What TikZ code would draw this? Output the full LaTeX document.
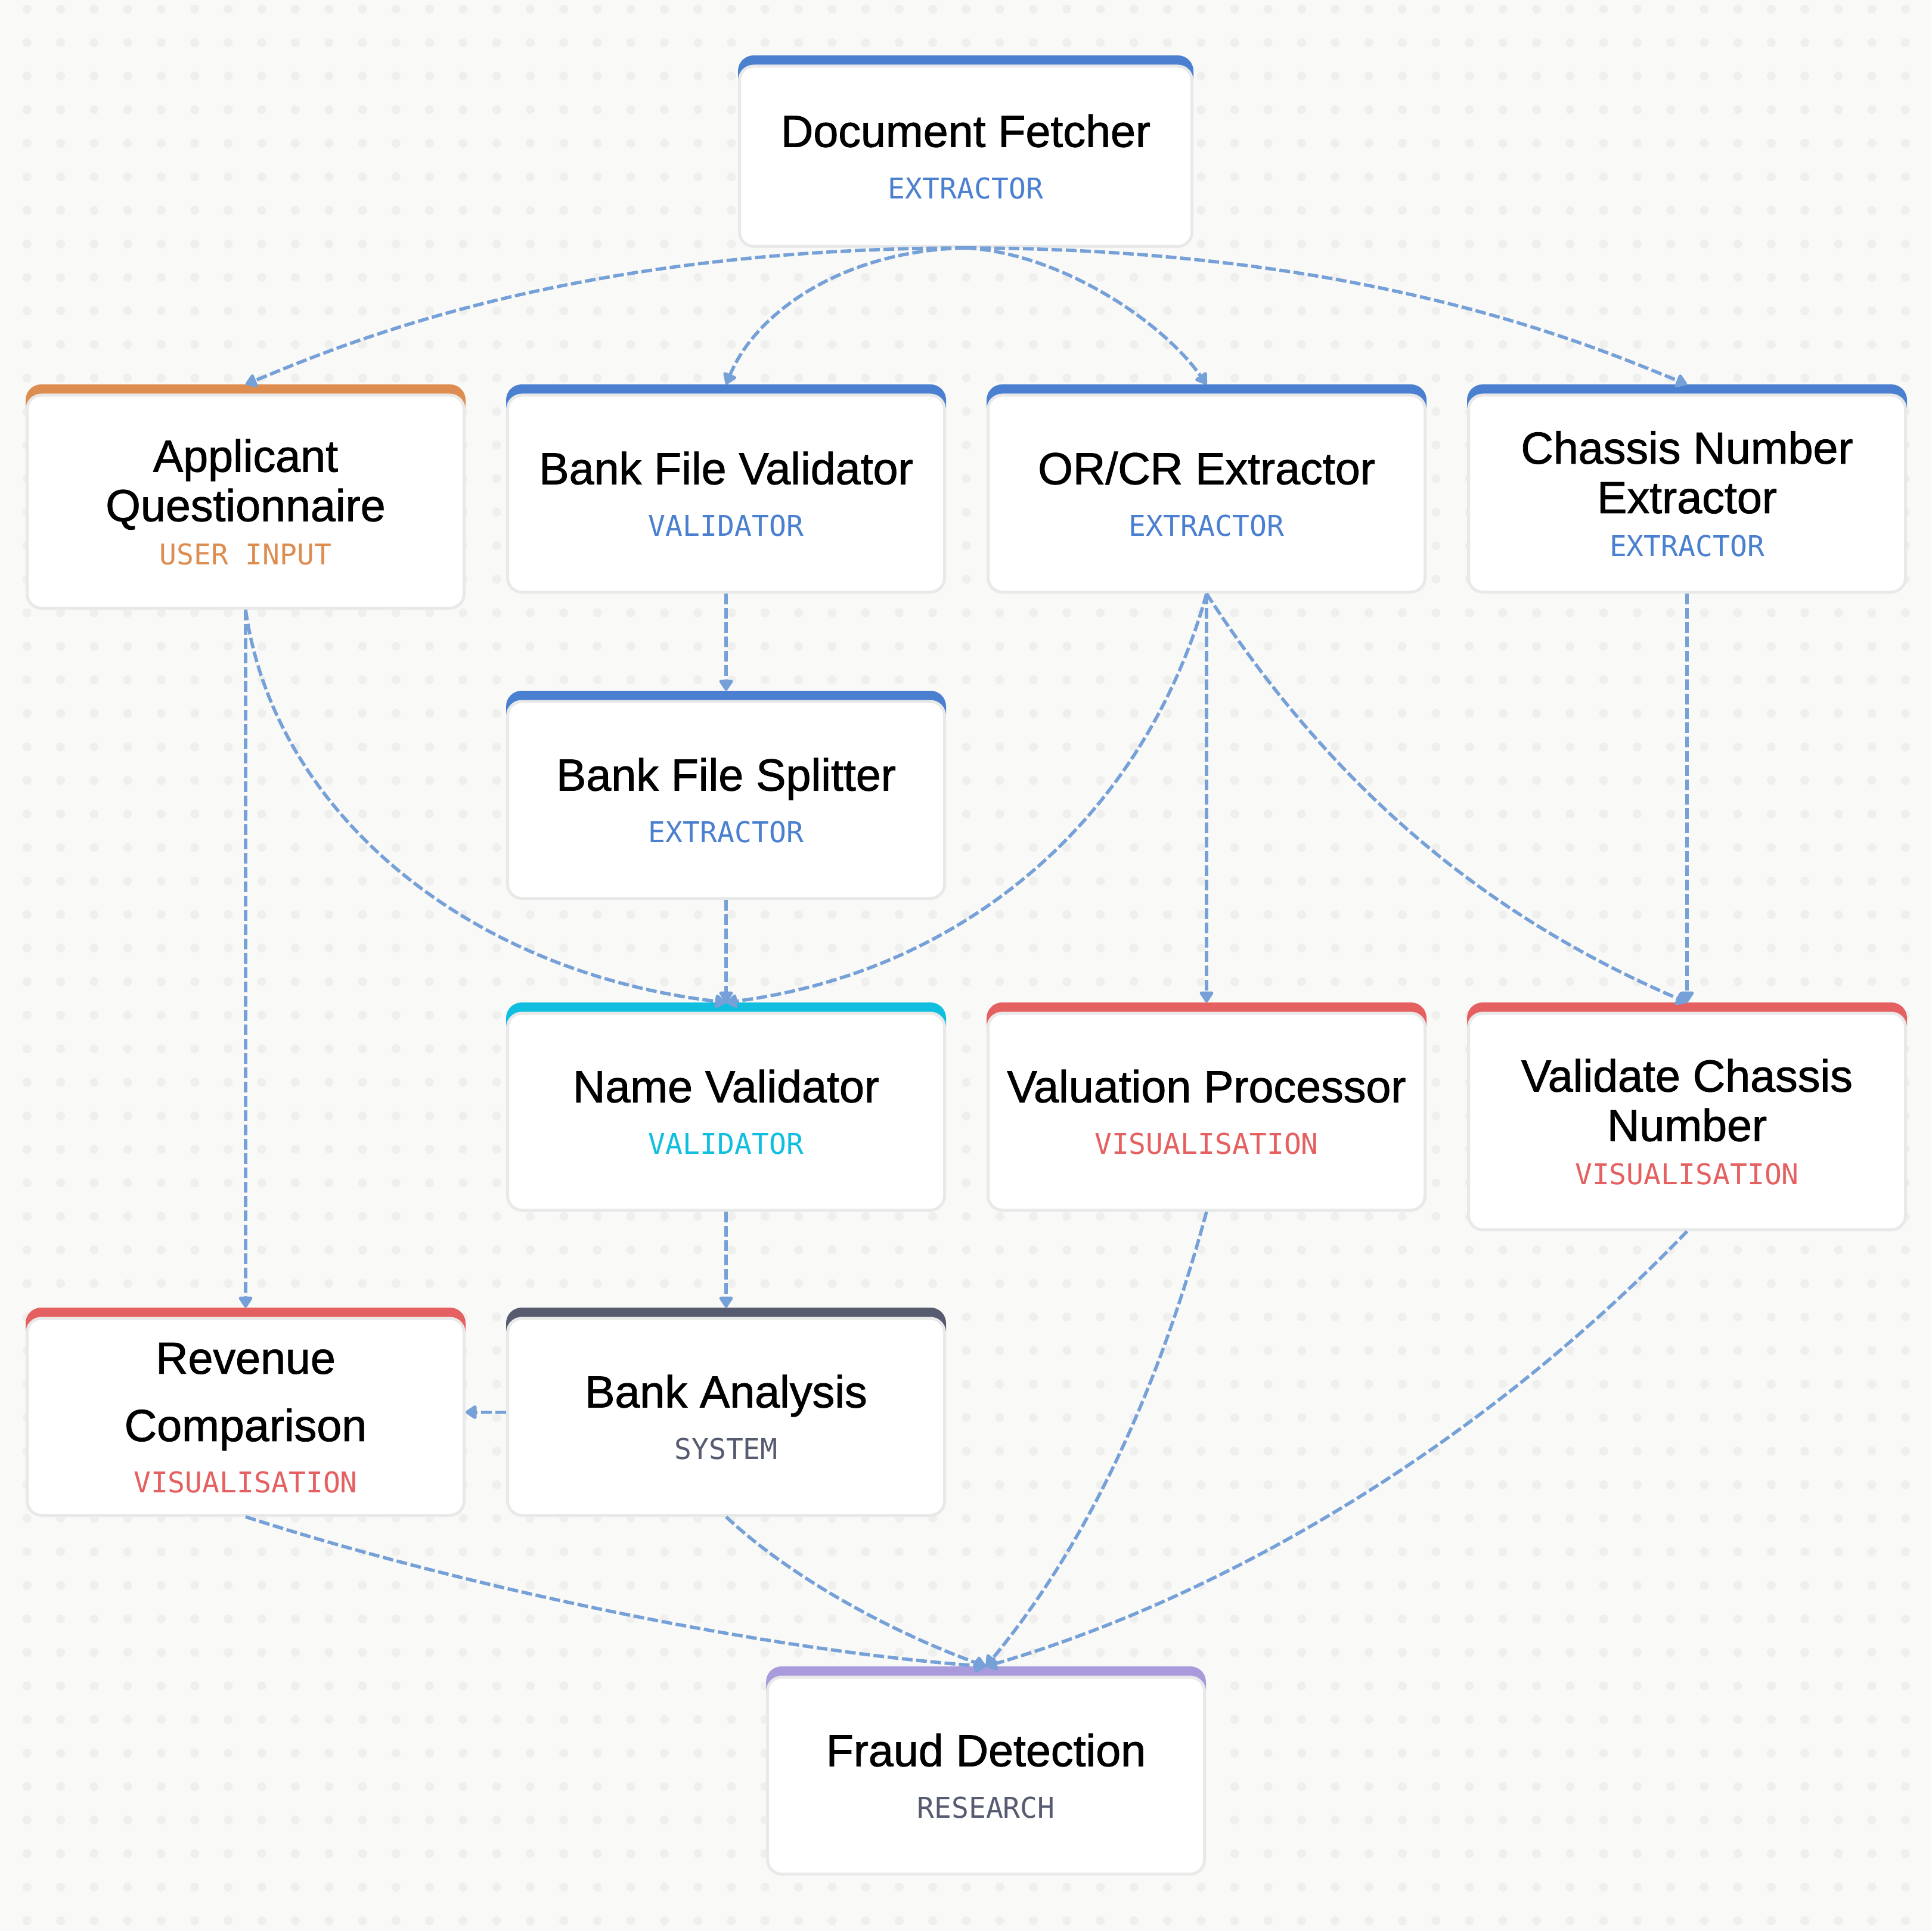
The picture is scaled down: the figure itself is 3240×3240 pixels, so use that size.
\documentclass[tikz,border=0pt]{standalone}
\usepackage{fontspec}
\usetikzlibrary{arrows.meta, backgrounds, positioning}

\setmainfont{Liberation Sans}
\newfontfamily\rolefamily{DejaVu Sans Mono}
\newcommand{\titlefont}{\fontsize{18.85pt}{20.75pt}\selectfont\addfontfeature{FakeBold=1.2}}
\newcommand{\topgap}{\rule{0pt}{17.9pt}}
\newcommand{\role}[2]{{\rolefamily\fontsize{12pt}{14pt}\selectfont\color{#1}#2}}

\definecolor{pagecol}{HTML}{F9F9F7}
\definecolor{dotcol}{HTML}{EFEFED}
\definecolor{edgecol}{HTML}{E9E9E9}
\definecolor{flowcol}{HTML}{76A0D8}
\definecolor{extractcol}{HTML}{4A80CF}
\definecolor{inputcol}{HTML}{DD8D50}
\definecolor{vizcol}{HTML}{E56060}
\definecolor{namecol}{HTML}{10BFE0}
\definecolor{syscol}{HTML}{565B70}
\definecolor{researchcol}{HTML}{A99BDB}

\tikzset{
    card/.style={
        rectangle, outer sep=0pt, inner sep=0pt, align=center,
        minimum width=184.5pt, minimum height=87.75pt, font=\titlefont,
        append after command={
            \pgfextra{\begin{pgfonlayer}{background}
                \fill[#1, rounded corners=6.5pt]
                    ([yshift=-10pt]\tikzlastnode.north west) -- (\tikzlastnode.north west)
                    -- (\tikzlastnode.north east) -- ([yshift=-10pt]\tikzlastnode.north east);
                \draw[edgecol, fill=white, line width=1.25pt, rounded corners=6pt]
                    ([xshift=0.625pt, yshift=-4.5pt]\tikzlastnode.north west)
                    rectangle ([xshift=-0.625pt, yshift=0.625pt]\tikzlastnode.south east);
            \end{pgfonlayer}}
        }
    },
    flow/.style={
        draw=flowcol, line width=1.4pt, dash pattern=on 4.5pt off 1.5pt,
        -{Triangle[length=5.2pt, width=6.5pt, round]}
    }
}

\begin{document}
\begin{tikzpicture}[x=0.25pt, y=-0.25pt]
    \useasboundingbox (0,0) rectangle (3240,3240);
    \begin{scope}[on background layer]
        \fill[pagecol] (0,0) rectangle (3240,3240);
        \foreach \i in {0,...,56}
            \foreach \j in {0,...,57}
                \fill[dotcol] (45.3+56.27*\i, 15.3+56.27*\j) circle (1.85pt);
    \end{scope}

    % top of the chart
    \node[card=extractcol, minimum width=191pt, minimum height=80.75pt] (fetcher) at (1620,254.5)
        {\topgap Document Fetcher\\[1pt]\role{extractcol}{EXTRACTOR}};

    % second row
    \node[card=extractcol, anchor=north west] (bankval) at (849,645)
        {\topgap Bank File Validator\\[1pt]\role{extractcol}{VALIDATOR}};
    \node[card=extractcol, right=17pt of bankval] (orcr)
        {\topgap OR/CR Extractor\\[1pt]\role{extractcol}{EXTRACTOR}};
    \node[card=extractcol, right=17pt of orcr] (chassis)
        {\topgap Chassis Number\\Extractor\\[-2.5pt]\role{extractcol}{EXTRACTOR}};
    \node[card=inputcol, anchor=north east, minimum height=94.5pt] (applicant) at ([xshift=-17pt]bankval.north west)
        {\topgap Applicant\\Questionnaire\\[-2.5pt]\role{inputcol}{USER INPUT}};

    % middle
    \node[card=extractcol, below=40.75pt of bankval] (splitter)
        {\topgap Bank File Splitter\\[1pt]\role{extractcol}{EXTRACTOR}};
    \node[card=namecol, below=43pt of splitter] (nameval)
        {\topgap Name Validator\\[1pt]\role{namecol}{VALIDATOR}};
    \node[card=vizcol, right=17pt of nameval] (valuation)
        {\topgap Valuation Processor\\[1pt]\role{vizcol}{VISUALISATION}};
    \node[card=vizcol, anchor=north west, minimum height=96pt] (validate) at ([xshift=17pt]valuation.north east)
        {\topgap Validate Chassis\\Number\\[-2.5pt]\role{vizcol}{VISUALISATION}};

    % lower rows
    \node[card=syscol, below=40.25pt of nameval] (analysis)
        {\topgap Bank Analysis\\[1pt]\role{syscol}{SYSTEM}};
    \node[card=vizcol, left=17pt of analysis] (revenue)
        {\topgap Revenue\\[7.5pt]Comparison\\[1pt]\role{vizcol}{VISUALISATION}};
    \node[card=researchcol, anchor=north west] (fraud) at (1285,2796)
        {\topgap Fraud Detection\\[1pt]\role{syscol}{RESEARCH}};

    \draw[flow] (fetcher.south) .. controls (950,417) and (575,578) .. (applicant.north);
    \draw[flow] (fetcher.south) .. controls (1420,420) and (1270,520) .. (bankval.north);
    \draw[flow] (fetcher.south) .. controls (1780,425) and (1950,540) .. (orcr.north);
    \draw[flow] (fetcher.south) .. controls (2290,417) and (2665,578) .. (chassis.north);
    \draw[flow] (bankval.south) -- (splitter.north);
    \draw[flow] (splitter.south) -- (nameval.north);
    \draw[flow] (applicant.south) .. controls (460,1360) and (780,1630) .. (nameval.north);
    \draw[flow] (orcr.south) .. controls (1920,1370) and (1620,1630) .. (nameval.north);
    \draw[flow] (orcr.south) -- (valuation.north);
    \draw[flow] (orcr.south) .. controls (2240,1330) and (2500,1540) .. (validate.north);
    \draw[flow] (chassis.south) -- (validate.north);
    \draw[flow] (nameval.south) -- (analysis.north);
    \draw[flow] (applicant.south) -- (revenue.north);
    \draw[flow] (analysis.west) -- (revenue.east);
    \draw[flow] (revenue.south) .. controls (800,2670) and (1300,2770) .. (fraud.north);
    \draw[flow] (analysis.south) .. controls (1330,2650) and (1500,2740) .. (fraud.north);
    \draw[flow] (valuation.south) .. controls (1930,2380) and (1800,2620) .. (fraud.north);
    \draw[flow] (validate.south) .. controls (2480,2430) and (2050,2680) .. (fraud.north);
\end{tikzpicture}
\end{document}
